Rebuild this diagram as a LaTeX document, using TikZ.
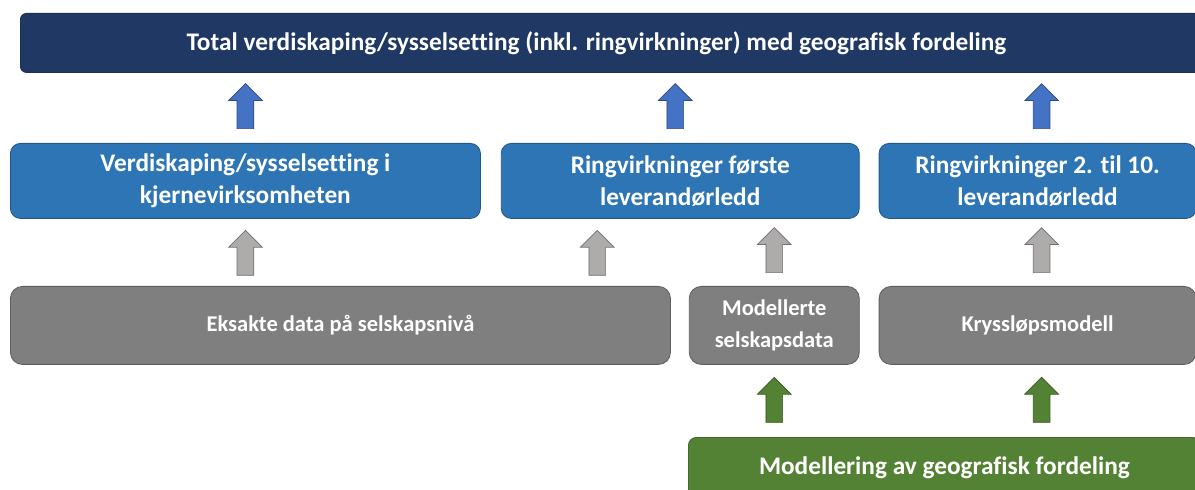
\documentclass[tikz,border=0pt]{standalone}
\usepackage{fontspec}
\setmainfont{Carlito}[Ligatures=NoCommon]
\usetikzlibrary{positioning, shapes.arrows}
\definecolor{navyhead}{HTML}{203864}
\definecolor{resblue}{HTML}{2E75B6}
\definecolor{srcgray}{HTML}{7F7F7F}
\definecolor{geogreen}{HTML}{548235}
\definecolor{arrblue}{HTML}{4472C4}
\definecolor{arrgray}{HTML}{AEABAB}

\begin{document}
\begin{tikzpicture}[
    headbox/.style={draw=navyhead!85!black, fill=navyhead, rounded corners=0.15cm, minimum height=1.475cm, text=white, font=\fontsize{18}{21}\selectfont\bfseries, line width=0.6pt},
    resultbox/.style={draw=resblue!75!black, fill=resblue, rounded corners=0.25cm, minimum width=#1, minimum height=1.875cm, text=white, font=\fontsize{18}{23}\selectfont\bfseries, align=center, line width=0.6pt},
    sourcebox/.style={draw=srcgray!75!black, fill=srcgray, rounded corners=0.3cm, minimum width=#1, minimum height=1.95cm, text=white, font=\fontsize{16}{22.5}\selectfont\bfseries, align=center, line width=0.6pt},
    geobox/.style={draw=geogreen!80!black, fill=geogreen, rounded corners=0.2cm, minimum width=#1, minimum height=1.5cm, text=white, font=\fontsize{18}{21}\selectfont\bfseries, line width=0.6pt},
    uparrow/.style={single arrow, shape border rotate=90, draw=#1!65!black, fill=#1, minimum height=1.125cm, minimum width=0.825cm, single arrow head extend=0.2125cm, inner sep=0.2cm, line width=0.5pt}
]
\useasboundingbox (0,0) rectangle (29.875,-12.25);
\clip (0,0) rectangle (29.875,-12.25);

% Top result (box runs off the right edge, text sits a bit left)
\node[headbox, minimum width=29.5cm, anchor=north west] (total) at (0.5,-0.325)
  {\hspace*{-0.7cm}Total verdiskaping/sysselsetting (inkl. ringvirkninger) med geografisk fordeling};

% Result boxes
\node[resultbox=11.75cm, anchor=north west] (core) at (0.25,-3.575)
  {Verdiskaping/sysselsetting i\\kjernevirksomheten};
\node[resultbox=8.95cm, right=0.5cm of core] (ring1) {Ringvirkninger første\\leverandørledd};
\node[resultbox=7.925cm, right=0.475cm of ring1] (ring2) {Ringvirkninger 2. til 10.\\leverandørledd};

% Data sources
\node[sourcebox=16.5cm, anchor=north west] (exact) at (0.25,-7.15) {Eksakte data på selskapsnivå};
\node[sourcebox=4.25cm, right=0.45cm of exact] (modelled) {Modellerte\\selskapsdata};
\node[sourcebox=7.925cm, right=0.475cm of modelled] (kryss) {Kryssløpsmodell};

% Geography model
\node[geobox=12.8cm, anchor=north west] (geo) at (17.2,-10.925) {Modellering av geografisk fordeling};

% Arrows into total
\node[uparrow=arrblue, above=0.35cm of core] (upcore) {};
\node[uparrow=arrblue, above=0.35cm of ring1, xshift=-0.125cm] (upring1) {};
\node[uparrow=arrblue, above=0.35cm of ring2, xshift=0.1cm] (upring2) {};

% Arrows into results
\node[uparrow=arrgray, below=0.275cm of core] (upexact) {};
\node[uparrow=arrgray, below=0.275cm of ring1, xshift=-2.075cm] (upexact2) {};
\node[uparrow=arrgray, above=0.325cm of modelled] (upmodelled) {};
\node[uparrow=arrgray, above=0.325cm of kryss, xshift=0.1cm] (upkryss) {};

% Arrows from geography
\node[uparrow=geogreen, below=0.3cm of modelled] (geomodelled) {};
\node[uparrow=geogreen, below=0.3cm of kryss, xshift=0.1cm] (geokryss) {};

\end{tikzpicture}
\end{document}
